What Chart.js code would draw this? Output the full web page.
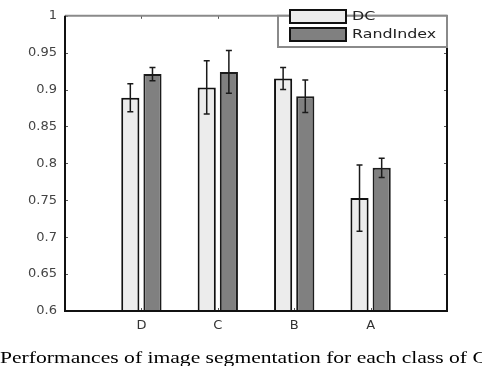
<!DOCTYPE html>
<html lang="en">
<head>
  <meta charset="UTF-8">
  <title>DC / RandIndex</title>
  <script src="https://cdn.jsdelivr.net/npm/chart.js"></script>
  <style>
    body {
      margin: 0;
      background: white;
      width: 482px;
      height: 366px;
      overflow: hidden;
      position: relative;
    }
    #wrap {
      position: absolute;
      left: 0;
      top: 0;
      width: 482px;
      height: 366px;
    }
    #caption {
      position: absolute;
      left: 0;
      top: 348px;
      font-family: "Liberation Serif", serif;
      font-size: 17px;
      white-space: nowrap;
      color: #000;
      transform: scaleX(1.27);
      transform-origin: left top;
    }
  </style>
</head>
<body>
  <div id="wrap"><canvas id="graphique" width="482" height="366"></canvas></div>
  <div id="caption">Performances of image segmentation for each class of C</div>

  <script>
    // données
    const categories = ["D", "C", "B", "A"];
    const seriesNames = ["DC", "RandIndex"];
    const dcValues = [0.889, 0.903, 0.915, 0.753];
    const dcErrors = [0.019, 0.036, 0.015, 0.045];
    const riValues = [0.921, 0.924, 0.891, 0.794];
    const riErrors = [0.009, 0.029, 0.022, 0.013];
    const yTicks = [0.6, 0.65, 0.7, 0.75, 0.8, 0.85, 0.9, 0.95, 1];

    // une case vide de chaque côté, comme sur la figure
    const labels = ["", ...categories, ""];
    const pad = arr => [null, ...arr, null];
    const errors = [pad(dcErrors), pad(riErrors)];

    // barres d'erreur
    const errorBars = {
      id: "errorBars",
      afterDatasetsDraw(chart) {
        const ctx = chart.ctx;
        const y = chart.scales.y;
        ctx.save();
        chart.data.datasets.forEach((ds, i) => {
          const meta = chart.getDatasetMeta(i);
          meta.data.forEach((bar, j) => {
            const v = ds.data[j];
            const e = errors[i][j];
            if (v == null || e == null) return;
            const top = y.getPixelForValue(v + e);
            const bot = y.getPixelForValue(v - e);
            ctx.strokeStyle = "#1a1a1a";
            ctx.lineWidth = 1.5;
            ctx.beginPath();
            ctx.moveTo(bar.x, top);
            ctx.lineTo(bar.x, bot);
            ctx.moveTo(bar.x - 3, top);
            ctx.lineTo(bar.x + 3, top);
            ctx.moveTo(bar.x - 3, bot);
            ctx.lineTo(bar.x + 3, bot);
            ctx.stroke();
          });
        });
        ctx.restore();
      }
    };

    // cadre, petites graduations et légende
    const frame = {
      id: "frame",
      afterDraw(chart) {
        const ctx = chart.ctx;
        const a = chart.chartArea;
        const x = chart.scales.x;
        const y = chart.scales.y;
        const lg = { l: 278, t: a.top, r: a.right, b: 47 };
        ctx.save();

        // graduations intérieures
        ctx.strokeStyle = "#555";
        ctx.lineWidth = 1;
        ctx.beginPath();
        y.ticks.forEach(t => {
          const py = Math.round(y.getPixelForValue(t.value)) + 0.5;
          ctx.moveTo(a.left, py); ctx.lineTo(a.left + 3, py);
          if (py > lg.b) { ctx.moveTo(a.right, py); ctx.lineTo(a.right - 3, py); }
        });
        categories.forEach((c, i) => {
          const px = Math.round(x.getPixelForValue(i + 1)) + 0.5;
          ctx.moveTo(px, a.bottom); ctx.lineTo(px, a.bottom - 3);
          if (px < lg.l) { ctx.moveTo(px, a.top); ctx.lineTo(px, a.top + 3); }
        });
        ctx.stroke();

        // cadre
        ctx.lineWidth = 2;
        ctx.strokeStyle = "#8a8a8a";
        ctx.beginPath();
        ctx.moveTo(a.left, a.top); ctx.lineTo(a.right, a.top);
        ctx.stroke();
        ctx.strokeStyle = "#111";
        ctx.beginPath();
        ctx.moveTo(a.left, a.top); ctx.lineTo(a.left, a.bottom);
        ctx.lineTo(a.right, a.bottom); ctx.lineTo(a.right, lg.b);
        ctx.stroke();

        // légende
        ctx.fillStyle = "white";
        ctx.fillRect(lg.l, lg.t, lg.r - lg.l, lg.b - lg.t);
        ctx.strokeStyle = "#8a8a8a";
        ctx.strokeRect(lg.l, lg.t, lg.r - lg.l, lg.b - lg.t);
        ctx.font = "13px 'DejaVu Sans', sans-serif";
        ctx.textBaseline = "middle";
        chart.data.datasets.forEach((ds, i) => {
          const sy = 10 + i * 18;
          ctx.fillStyle = ds.backgroundColor;
          ctx.fillRect(290, sy, 56, 13);
          ctx.strokeStyle = "#111";
          ctx.lineWidth = 2;
          ctx.strokeRect(290, sy, 56, 13);
          ctx.fillStyle = "#222";
          // texte un peu étiré comme dans la figure
          ctx.save();
          ctx.translate(352, sy + 7);
          ctx.scale(1.22, 1);
          ctx.fillText(ds.label, 0, 0);
          ctx.restore();
        });
        ctx.restore();
      }
    };

    const ctx = document.getElementById("graphique").getContext("2d");
    new Chart(ctx, {
      type: "bar",
      data: {
        labels: labels,
        datasets: [
          {
            label: seriesNames[0],
            data: pad(dcValues),
            backgroundColor: "#ececec",
            borderColor: "#111",
            borderWidth: 2,
            categoryPercentage: 0.58,
            barPercentage: 0.82
          },
          {
            label: seriesNames[1],
            data: pad(riValues),
            backgroundColor: "#808080",
            borderColor: "#1c1c1c",
            borderWidth: 2,
            categoryPercentage: 0.58,
            barPercentage: 0.82
          }
        ]
      },
      options: {
        responsive: false,
        animation: false,
        layout: { padding: { left: 0, top: 5, right: 35, bottom: 0 } },
        plugins: {
          legend: { display: false },
          tooltip: { enabled: false }
        },
        scales: {
          x: {
            offset: false,
            grid: { display: false, drawTicks: false },
            border: { display: false },
            ticks: {
              color: "#333",
              font: { family: "'DejaVu Sans', sans-serif", size: 13 },
              padding: 7,
              maxRotation: 0,
              autoSkip: false
            },
            afterFit(scale) { scale.height = 55; }
          },
          y: {
            min: 0.6,
            max: 1,
            grid: { display: false, drawTicks: false },
            border: { display: false },
            afterBuildTicks(scale) {
              scale.ticks = yTicks.map(v => ({ value: v }));
            },
            ticks: {
              color: "#444",
              font: { family: "'DejaVu Sans', sans-serif", size: 13 },
              padding: 8,
              callback: v => String(+v.toFixed(2))
            },
            afterFit(scale) { scale.width = 65; }
          }
        }
      },
      plugins: [errorBars, frame]
    });
  </script>
</body>
</html>
